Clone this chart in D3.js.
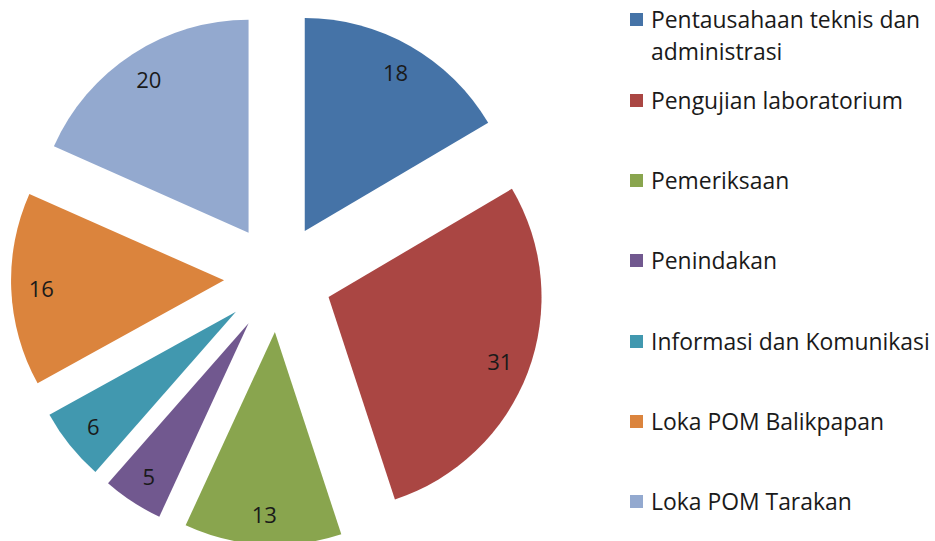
<!DOCTYPE html>
<html>
<head>
<meta charset="utf-8">
<script src="https://cdn.jsdelivr.net/npm/d3@7"></script>
<style>
  html, body { margin: 0; padding: 0; background: #fff; }
  svg { display: block; }
  text { font-family: "Open Sans", "Noto Sans", sans-serif; fill: #1a1a1a; }
</style>
</head>
<body>
<svg id="chart" width="935" height="541"></svg>
<script>
const categories = [
  "Pentausahaan teknis dan administrasi",
  "Pengujian laboratorium",
  "Pemeriksaan",
  "Penindakan",
  "Informasi dan Komunikasi",
  "Loka POM Balikpapan",
  "Loka POM Tarakan"
];
const legendLines = [
  ["Pentausahaan teknis dan", "administrasi"],
  ["Pengujian laboratorium"],
  ["Pemeriksaan"],
  ["Penindakan"],
  ["Informasi dan Komunikasi"],
  ["Loka POM Balikpapan"],
  ["Loka POM Tarakan"]
];
const values = [18, 31, 13, 5, 6, 16, 20];
const colors = ["#4573A7", "#AA4643", "#89A54E", "#71588F", "#4198AF", "#DB843D", "#93A9CF"];

const svg = d3.select("#chart");
const cx = 278, cy = 278, R = 213, explode = 54, labelR = 183;

const pie = d3.pie().sort(null).value(d => d)(values);
const arc = d3.arc().innerRadius(0).outerRadius(R);
const g = svg.append("g").attr("transform", `translate(${cx},${cy})`);

const slices = g.selectAll("g.slice").data(pie).join("g")
  .attr("class", "slice")
  .attr("transform", d => {
    const a = (d.startAngle + d.endAngle) / 2;
    return `translate(${Math.sin(a) * explode},${-Math.cos(a) * explode})`;
  });

slices.append("path")
  .attr("d", arc)
  .attr("fill", (d, i) => colors[i]);

slices.append("text")
  .attr("x", d => Math.sin((d.startAngle + d.endAngle) / 2) * labelR)
  .attr("y", d => -Math.cos((d.startAngle + d.endAngle) / 2) * labelR)
  .attr("text-anchor", "middle")
  .attr("dy", "0.38em")
  .style("font-size", "22px")
  .text(d => d.data);

// Legend
const legendY = [20, 101, 181, 261, 342, 422, 502];
const leg = svg.append("g");
const items = leg.selectAll("g").data(categories).join("g")
  .attr("transform", (d, i) => `translate(630,${legendY[i]})`);
items.append("rect")
  .attr("x", 0).attr("y", -7).attr("width", 13).attr("height", 13)
  .attr("fill", (d, i) => colors[i]);
const texts = items.append("text")
  .attr("x", 21)
  .style("font-size", "20px");
texts.each(function(d, i) {
  const t = d3.select(this);
  legendLines[i].forEach((ln, j) => {
    t.append("tspan").attr("x", 21).attr("y", 8 + j * 32).text(ln);
  });
});
// fit font size so the widest line matches the reference width
const probe = texts.filter((d, i) => i === 4).node();
const w = probe.getComputedTextLength();
const fs = 20 * 279 / w;
texts.style("font-size", fs + "px");
</script>
</body>
</html>
